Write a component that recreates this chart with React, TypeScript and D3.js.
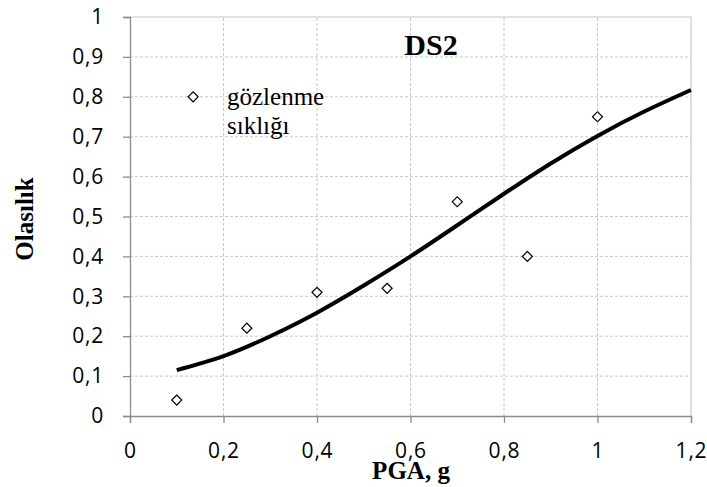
import React, { useEffect, useRef } from 'react';
import * as d3 from 'd3';

// observed frequencies (points)
const obsX = [0.1, 0.25, 0.4, 0.55, 0.7, 0.85, 1.0];
const obsY = [0.04, 0.22, 0.31, 0.32, 0.537, 0.4, 0.75];

// fitted fragility curve
const curveX = [0.1, 0.2, 0.3, 0.4, 0.5, 0.6, 0.7, 0.8, 0.9, 1.0, 1.1, 1.2];
const curveY = [0.115, 0.15, 0.2, 0.259, 0.327, 0.4, 0.478, 0.557, 0.633, 0.702, 0.763, 0.817];

const xTicks = [0, 0.2, 0.4, 0.6, 0.8, 1, 1.2];
const yTicks = [0, 0.1, 0.2, 0.3, 0.4, 0.5, 0.6, 0.7, 0.8, 0.9, 1];

const title = 'DS2';
const legendLines = ['gözlenme', 'sıklığı'];
const legendPos = [0.135, 0.8];

const fmt = (v: number) => String(v).replace('.', ',');

const App = () => {
  const ref = useRef<SVGSVGElement>(null);

  useEffect(() => {
    const svg = d3.select(ref.current);
    svg.selectAll('*').remove();

    const margin = { top: 17, right: 16, bottom: 71, left: 130 };
    const width = 707;
    const height = 487;

    const x = d3.scaleLinear().domain([0, 1.2]).range([margin.left, width - margin.right]);
    const y = d3.scaleLinear().domain([0, 1]).range([height - margin.bottom, margin.top]);

    const tickFont = 'Open Sans, sans-serif';
    const serif = 'Liberation Serif, Times New Roman, serif';

    // grid
    svg.append('g')
      .selectAll('line')
      .data(yTicks.slice(1, -1))
      .join('line')
      .attr('x1', x(0)).attr('x2', x(1.2))
      .attr('y1', (d) => y(d)).attr('y2', (d) => y(d))
      .attr('stroke', '#c8c8c8')
      .attr('stroke-dasharray', '3,2');
    svg.append('g')
      .selectAll('line')
      .data(xTicks.slice(1, -1))
      .join('line')
      .attr('y1', y(0)).attr('y2', y(1))
      .attr('x1', (d) => x(d)).attr('x2', (d) => x(d))
      .attr('stroke', '#c8c8c8')
      .attr('stroke-dasharray', '3,2');

    // plot border (top, right)
    svg.append('path')
      .attr('d', `M${x(0)},${y(1)}H${x(1.2)}V${y(0)}`)
      .attr('fill', 'none')
      .attr('stroke', '#c8c8c8')
      .attr('stroke-width', 1.2);

    // axes
    const xAxis = svg.append('g')
      .attr('transform', `translate(0,${y(0)})`)
      .call(d3.axisBottom(x).tickValues(xTicks).tickSize(7).tickPadding(20).tickFormat((d) => fmt(+d)));
    const yAxis = svg.append('g')
      .attr('transform', `translate(${x(0)},0)`)
      .call(d3.axisLeft(y).tickValues(yTicks).tickSize(7).tickPadding(19).tickFormat((d) => fmt(+d)));
    [xAxis, yAxis].forEach((g) => {
      g.attr('font-family', null).attr('font-size', null);
      g.select('.domain').attr('stroke', '#8c8c8c').attr('stroke-width', 1.3);
      g.selectAll('.tick line').attr('stroke', '#8c8c8c').attr('stroke-width', 1.3);
      g.selectAll('.tick text')
        .attr('fill', '#000')
        .attr('font-family', tickFont)
        .attr('font-size', 21)
        .attr('letter-spacing', 0.8);
    });

    // curve
    const line = d3.line<number>()
      .x((d, i) => x(curveX[i]))
      .y((d) => y(d))
      .curve(d3.curveNatural);
    svg.append('path')
      .datum(curveY)
      .attr('d', line)
      .attr('fill', 'none')
      .attr('stroke', '#000')
      .attr('stroke-width', 4);

    // diamonds
    const diamond = d3.symbol().type(d3.symbolSquare).size(50);
    svg.append('g')
      .selectAll('path')
      .data(obsX.map((v, i) => [v, obsY[i]]).concat([legendPos]))
      .join('path')
      .attr('d', diamond)
      .attr('transform', (d) => `translate(${x(d[0])},${y(d[1])}) rotate(45)`)
      .attr('fill', '#fff')
      .attr('stroke', '#000')
      .attr('stroke-width', 1.2);

    // legend text
    svg.append('text')
      .attr('x', 227)
      .attr('y', 105)
      .attr('font-family', serif)
      .attr('font-size', 25)
      .selectAll('tspan')
      .data(legendLines)
      .join('tspan')
      .attr('x', 227)
      .attr('dy', (d, i) => (i === 0 ? 0 : 29))
      .text((d) => d);

    // title
    svg.append('text')
      .attr('x', 431)
      .attr('y', 55)
      .attr('text-anchor', 'middle')
      .attr('font-family', serif)
      .attr('font-weight', 'bold')
      .attr('font-size', 30)
      .text(title);

    // axis titles
    svg.append('text')
      .attr('x', 411)
      .attr('y', 479)
      .attr('text-anchor', 'middle')
      .attr('font-family', serif)
      .attr('font-weight', 'bold')
      .attr('font-size', 25)
      .text('PGA, g');
    svg.append('text')
      .attr('transform', `translate(33,219) rotate(-90)`)
      .attr('text-anchor', 'middle')
      .attr('font-family', serif)
      .attr('font-weight', 'bold')
      .attr('font-size', 25)
      .text('Olasılık');
  }, []);

  return (
    <svg
      ref={ref}
      width={707}
      height={487}
      style={{ position: 'absolute', left: 0, top: 0, background: '#fff' }}
    />
  );
};

export default App;
